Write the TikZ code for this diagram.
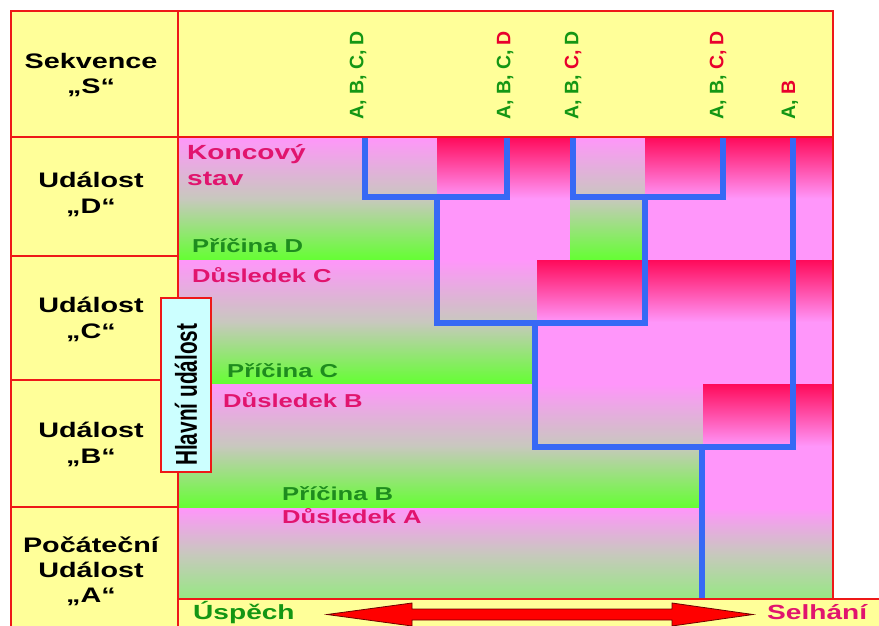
\documentclass[tikz,border=0pt]{standalone}
\usepackage{fontspec}
\setmainfont{Liberation Sans}
\newfontfamily\widefont[FakeStretch=1.37]{Liberation Sans}
\usetikzlibrary{calc}

\definecolor{paleyellow}{RGB}{255,255,153}
\definecolor{framered}{RGB}{238,24,24}
\definecolor{okpink}{RGB}{255,150,250}
\definecolor{okgrey}{RGB}{200,200,190}
\definecolor{okgreen}{RGB}{100,255,50}
\definecolor{lightgreen}{RGB}{150,232,130}
\definecolor{failred}{RGB}{255,10,90}
\definecolor{treeblue}{RGB}{55,105,245}
\definecolor{causegreen}{RGB}{30,140,30}
\definecolor{seqgreen}{RGB}{20,150,20}
\definecolor{seqred}{RGB}{232,0,45}
\definecolor{effectpink}{RGB}{225,20,110}
\definecolor{boxcyan}{RGB}{204,255,255}
\definecolor{arrowred}{RGB}{255,0,0}
\definecolor{arrowedge}{RGB}{110,0,0}

\tikzset{
  ok/.style={top color=okpink, bottom color=okgreen, middle color=okgrey},
  okfirst/.style={top color=okpink, bottom color=lightgreen, middle color=okgrey},
  fail/.style={top color=failred, bottom color=okpink, middle color=okpink},
  frameline/.style={draw=framered, line width=2pt},
  tree/.style={draw=treeblue, line width=6pt, line join=miter},
  rowlabel/.style={font=\widefont\bfseries\fontsize{21}{25}\selectfont, anchor=base, inner sep=0pt},
  endlabel/.style={font=\widefont\bfseries\fontsize{20.5}{24}\selectfont, text=effectpink, anchor=base west, inner sep=0pt},
  effect/.style={font=\widefont\bfseries\fontsize{18.7}{22}\selectfont, text=effectpink, anchor=base west, inner sep=0pt},
  cause/.style={font=\widefont\bfseries\fontsize{18.7}{22}\selectfont, text=causegreen, anchor=base west, inner sep=0pt},
  seqlabel/.style={font=\bfseries\fontsize{19.5}{22}\selectfont, text=seqgreen, rotate=90, anchor=west, inner sep=0pt},
  outcome/.style={font=\widefont\bfseries\fontsize{20.5}{24}\selectfont, anchor=base west, inner sep=0pt},
  mainbox/.style={draw=framered, line width=2pt, fill=boxcyan, minimum width=50pt, minimum height=174pt, inner sep=0pt},
  bigarrow/.style={fill=arrowred, draw=arrowedge, line width=0.8pt, line join=miter},
}

\begin{document}
\begin{tikzpicture}[x=1pt, y=-1pt]
\useasboundingbox (0,0) rectangle (879,626);

% yellow panels: left column, sequence header, outcome strip
\fill[paleyellow] (11,11) rectangle (178,626);
\fill[paleyellow] (178,11) rectangle (833,137);
\fill[paleyellow] (178,599) rectangle (879,626);

% band D (end state)
\fill[ok]   (178,137) rectangle (437,260);
\fill[fail] (437,137) rectangle (570,260);
\fill[ok]   (570,137) rectangle (645,260);
\fill[fail] (645,137) rectangle (833,260);
% band C
\fill[ok]   (178,260) rectangle (537,384);
\fill[fail] (537,260) rectangle (833,384);
% band B
\fill[ok]   (178,384) rectangle (703,508);
\fill[fail] (703,384) rectangle (833,508);
% band A
\fill[okfirst] (178,508) rectangle (833,599);

% event tree
\coordinate (s1) at (365,137);
\coordinate (s2) at (507,137);
\coordinate (s3) at (573,137);
\coordinate (s4) at (723,137);
\coordinate (s5) at (793,137);
\coordinate (j1) at (437,197);
\coordinate (j2) at (645,197);
\coordinate (j3) at (535,323);
\coordinate (j4) at (702,447);
\coordinate (root) at (702,599);

\draw[tree] (s1) |- (j1) -| (s2);
\draw[tree] (s3) |- (j2) -| (s4);
\draw[tree] (j1) |- (j3) -| (j2);
\draw[tree] (j3) |- (j4) -| (s5);
\draw[tree] (j4) -- (root);

% grid lines
\draw[frameline] (11,626) -- (11,11) -- (833,11) -- (833,599);
\draw[frameline] (178,11) -- (178,626);
\draw[frameline] (11,137) -- (833,137);
\draw[frameline] (11,256) -- (178,256);
\draw[frameline] (11,380) -- (160,380);
\draw[frameline] (11,507) -- (178,507);
\draw[frameline] (178,599) -- (879,599);

% sequence labels
\node[seqlabel] (seq1) at (358,120) {A, B, C, D};
\node[seqlabel] (seq2) at (505,120) {A, B, C, \textcolor{seqred}{D}};
\node[seqlabel] (seq3) at (573,120) {A, B, \textcolor{seqred}{C,} D};
\node[seqlabel] (seq4) at (718,120) {A, B, \textcolor{seqred}{C, D}};
\node[seqlabel] (seq5) at (790,120) {A, \textcolor{seqred}{B}};

% row headings
\node[rowlabel] (rowS)  at (91,69)  {Sekvence};
\node[rowlabel] (rowSq) at (91,93)  {„S“};
\node[rowlabel] (rowD)  at (91,187) {Událost};
\node[rowlabel] (rowDq) at (91,213) {„D“};
\node[rowlabel] (rowC)  at (91,312) {Událost};
\node[rowlabel] (rowCq) at (91,338) {„C“};
\node[rowlabel] (rowB)  at (91,437) {Událost};
\node[rowlabel] (rowBq) at (91,463) {„B“};
\node[rowlabel] (rowA1) at (91,552) {Počáteční};
\node[rowlabel] (rowA2) at (91,577) {Událost};
\node[rowlabel] (rowAq) at (91,602) {„A“};

% band texts
\node[endlabel] (endK) at (187,159) {Koncový};
\node[endlabel] (endS) at (187,185) {stav};
\node[cause]  (causeD)  at (192,252) {Příčina D};
\node[effect] (effectC) at (192,282) {Důsledek C};
\node[cause]  (causeC)  at (227,377) {Příčina C};
\node[effect] (effectB) at (223,407) {Důsledek B};
\node[cause]  (causeB)  at (282,500) {Příčina B};
\node[effect] (effectA) at (282,523) {Důsledek A};

% main event box
\node[mainbox] (hlavni) at (186,385) {};
\node[font=\bfseries\fontsize{20.8}{24}\selectfont, rotate=90, anchor=west, inner sep=0pt]
  (hlavniText) at (186,466) {\scalebox{1}[1.45]{Hlavní událost}};

% outcome axis
\node[outcome, text=seqgreen] (uspech) at (193,619) {Úspěch};
\node[outcome, text=effectpink] (selhani) at (767,619) {Selhání};
\coordinate (aL) at (327,614.5);
\coordinate (aR) at (753,614.5);
\filldraw[bigarrow] (aL) -- ++(85,-11.5) -- ++(0,6) -- ++(260,0) -- ++(0,-6)
  -- (aR) -- ++(-81,11.5) -- ++(0,-6) -- ++(-260,0) -- ++(0,6) -- cycle;
\end{tikzpicture}
\end{document}
